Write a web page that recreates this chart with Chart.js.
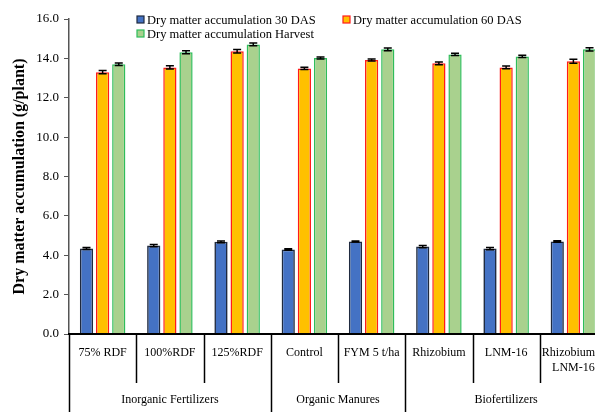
<!DOCTYPE html>
<html>
<head>
<meta charset="utf-8">
<script src="https://cdn.jsdelivr.net/npm/chart.js@4"></script>
<style>
html,body{margin:0;padding:0;background:#fff;overflow:hidden;width:595px;height:412px;}
#wrap{position:absolute;left:0;top:0;width:617px;height:412px;}
</style>
</head>
<body>
<div id="wrap"><canvas id="c" width="617" height="412"></canvas></div>
<script>
const categories = ["75% RDF", "100%RDF", "125%RDF", "Control", "FYM 5 t/ha", "Rhizobium", "LNM-16", ["Rhizobium +", "LNM-16"]];
const groups = ["Inorganic Fertilizers", "Organic Manures", "Biofertilizers"];
const groupSizes = [3, 2, 3];
const seriesLabels = ["Dry matter accumulation 30 DAS", "Dry matter accumulation 60 DAS", "Dry matter accumulation Harvest"];
const das30 = [4.34, 4.49, 4.68, 4.29, 4.70, 4.44, 4.34, 4.70];
const das60 = [13.30, 13.54, 14.36, 13.49, 13.92, 13.75, 13.54, 13.85];
const harvest = [13.70, 14.31, 14.71, 14.02, 14.46, 14.20, 14.10, 14.46];
const err30 = [0.05, 0.06, 0.04, 0.04, 0.03, 0.06, 0.06, 0.04];
const err60 = [0.08, 0.08, 0.09, 0.06, 0.05, 0.07, 0.07, 0.10];
const errHarvest = [0.06, 0.08, 0.07, 0.05, 0.07, 0.06, 0.06, 0.08];
const yTicks = [0, 2, 4, 6, 8, 10, 12, 14, 16];

const FONT = "'Liberation Serif', 'Times New Roman', serif";

const extras = {
  id: 'extras',
  afterDraw(chart) {
    const ctx = chart.ctx;
    const ca = chart.chartArea;
    const y = chart.scales.y;
    const n = categories.length;
    const w = (ca.right - ca.left) / n;
    ctx.save();
    // error bars
    const errs = [err30, err60, errHarvest];
    chart.data.datasets.forEach((ds, di) => {
      const meta = chart.getDatasetMeta(di);
      meta.data.forEach((bar, i) => {
        const v = ds.data[i], e = errs[di][i];
        const yt = y.getPixelForValue(v + e), yb = y.getPixelForValue(v - e);
        ctx.strokeStyle = '#000';
        ctx.lineWidth = 1.5;
        ctx.beginPath();
        ctx.moveTo(bar.x, yt); ctx.lineTo(bar.x, yb);
        ctx.moveTo(bar.x - 4, yt); ctx.lineTo(bar.x + 4, yt);
        ctx.moveTo(bar.x - 4, yb); ctx.lineTo(bar.x + 4, yb);
        ctx.stroke();
      });
    });
    // x axis line
    ctx.strokeStyle = '#000';
    ctx.lineWidth = 2;
    ctx.beginPath();
    ctx.moveTo(ca.left - 1, ca.bottom); ctx.lineTo(ca.right, ca.bottom);
    ctx.stroke();
    // dividers
    const groupEdges = [0];
    groupSizes.forEach(s => groupEdges.push(groupEdges[groupEdges.length - 1] + s));
    ctx.lineWidth = 1.5;
    for (let i = 0; i <= n; i++) {
      const px = Math.round(ca.left + i * w) + 0.5;
      const long = groupEdges.includes(i);
      ctx.beginPath();
      ctx.moveTo(px, ca.bottom);
      ctx.lineTo(px, long ? chart.height : ca.bottom + 49);
      ctx.stroke();
    }
    // group labels
    ctx.fillStyle = '#000';
    ctx.font = '12px ' + FONT;
    ctx.textAlign = 'center';
    ctx.textBaseline = 'middle';
    groups.forEach((g, gi) => {
      const cx = ca.left + (groupEdges[gi] + groupEdges[gi + 1]) / 2 * w;
      ctx.fillText(g, cx, 400);
    });
    // legend
    const items = [
      {i: 0, bx: 137, by: 16},
      {i: 1, bx: 343, by: 16},
      {i: 2, bx: 137, by: 30}
    ];
    ctx.textAlign = 'left';
    ctx.font = '12.5px ' + FONT;
    items.forEach(it => {
      const ds = chart.data.datasets[it.i];
      ctx.fillStyle = ds.backgroundColor;
      ctx.fillRect(it.bx, it.by, 7, 7);
      ctx.strokeStyle = ds.borderColor;
      ctx.lineWidth = 1.2;
      ctx.strokeRect(it.bx, it.by, 7, 7);
      ctx.fillStyle = '#000';
      ctx.fillText(ds.label, it.bx + 10, it.by + 4.5);
    });
    ctx.restore();
  }
};

new Chart(document.getElementById('c'), {
  type: 'bar',
  data: {
    labels: categories,
    datasets: [
      {label: seriesLabels[0], data: das30, backgroundColor: '#4472C4', borderColor: '#1F2A3F', borderWidth: 1.6},
      {label: seriesLabels[1], data: das60, backgroundColor: '#FFC000', borderColor: '#FF1A1A', borderWidth: 1.5},
      {label: seriesLabels[2], data: harvest, backgroundColor: '#A9D18E', borderColor: '#2EBD5A', borderWidth: 1.5}
    ]
  },
  options: {
    responsive: false,
    animation: false,
    devicePixelRatio: 1,
    categoryPercentage: 0.72,
    barPercentage: 0.82,
    layout: {padding: {top: 19, right: 1, left: 0, bottom: 0}},
    plugins: {legend: {display: false}, tooltip: {enabled: false}},
    scales: {
      x: {
        grid: {display: false, drawTicks: false},
        border: {display: false},
        ticks: {
          autoSkip: false, maxRotation: 0, minRotation: 0,
          color: '#000', padding: 12,
          font: {family: FONT, size: 12}
        },
        afterFit(s) { s.height = 78; }
      },
      y: {
        min: 0, max: 16,
        afterBuildTicks(s) { s.ticks = yTicks.map(v => ({value: v})); },
        grid: {drawOnChartArea: false, drawTicks: true, tickLength: 5, color: '#555', lineWidth: 1},
        border: {display: true, color: '#555', width: 1.5},
        ticks: {
          color: '#000', padding: 5,
          font: {family: FONT, size: 13},
          callback: v => Number(v).toFixed(1)
        },
        title: {
          display: true, text: 'Dry matter accumulation (g/plant)',
          color: '#000', font: {family: FONT, size: 16, weight: 'bold'}, padding: {top: 10, bottom: 0}
        },
        afterFit(s) { s.width = 69; }
      }
    }
  },
  plugins: [extras]
});
</script>
</body>
</html>
